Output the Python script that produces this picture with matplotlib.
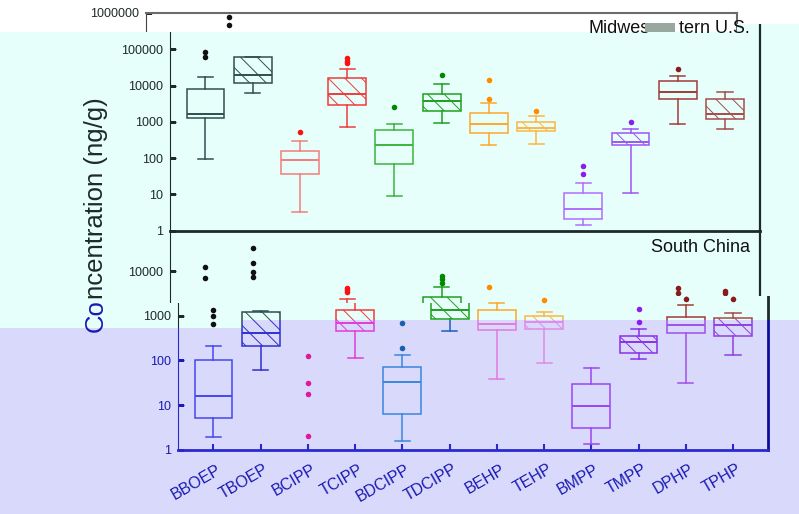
import matplotlib
matplotlib.use('Agg')
import matplotlib.pyplot as plt
from matplotlib.patches import Polygon, Rectangle
from matplotlib.transforms import Bbox, TransformedBbox, ScaledTranslation
from matplotlib.text import Text

plt.rcParams['font.family'] = ['Liberation Sans', 'DejaVu Sans']
plt.rcParams['hatch.linewidth'] = 0.7

cats = ['BBOEP', 'TBOEP', 'BCIPP', 'TCIPP', 'BDCIPP', 'TDCIPP',
        'BEHP', 'TEHP', 'BMPP', 'TMPP', 'DPHP', 'TPHP']

# Midwestern U.S. (ng/g)
us_lo = [94, 6100, 3.2, 705, 9.0, 945, 230, 240, 1.41, 10.7, 887, 646]
us_q1 = [1300, 11900, 35.8, 2850, 67.5, 1950, 491, 547, 2.06, 225, 4170, 1172]
us_med = [1620, 19400, 90, 5720, 230, 3670, 869, 675, 3.96, 272, 6500, 1610]
us_q3 = [7850, 62000, 154, 15800, 606, 5720, 1715, 1006, 10.7, 482, 13300, 4330]
us_hi = [16900, 62000, 290, 27900, 853, 10800, 3360, 1473, 21, 621, 17900, 6500]
us_fl = [[85000, 62000], [760000, 470000], [524], [56000, 47300, 40400], [2560],
         [19900], [14200, 4330], [2020], [62, 36.5], [987], [27900], []]

# South China (ng/g); BCIPP has outliers only
sc_lo = [1.9, 62, None, 114, 1.57, 459, 38.7, 88, 1.38, 110, 31.5, 133]
sc_q1 = [5.2, 205, None, 452, 6.3, 865, 476, 500, 3.06, 150, 408, 350]
sc_med = [15.9, 408, None, 693, 33.7, 1334, 649, 719, 9.6, 261, 604, 604]
sc_q3 = [101, 1200, None, 1310, 73, 2650, 1334, 960, 30.4, 350, 945, 897]
sc_hi = [205, 1260, None, 2390, 135, 4500, 1914, 1203, 66, 517, 1754, 1160]
sc_fl = [[12500, 7100, 1350, 1000, 650], [32200, 15300, 9600, 7500],
         [125, 31.5, 17.6, 2.06], [4140, 3730, 3380], [695, 188], [7540, 6580, 5530],
         [4500], [2270], [], [1377, 705], [4140, 3210, 2305], [3520, 3170, 2305]]

up_col = ['#2f4f4f', '#2f4f4f', '#f47c7c', '#f03a3a', '#3cb43c', '#1f9f1f',
          '#ffa62b', '#ffb443', '#b06cff', '#9d55f2', '#a33a3a', '#a84a4a']
up_fl = ['#111111', '#111111', '#ff1010', '#ff1010', '#008800', '#008800',
         '#ff8c00', '#ff8c00', '#8a1ef0', '#8a1ef0', '#8b1a1a', '#8b1a1a']
lo_col = ['#4646ee', '#3030d0', '#e0189a', '#e03cdc', '#3a86e0', '#1a5fc0',
          '#e07ae0', '#e08aea', '#9a45f5', '#8a30e8', '#a050ea', '#9040e0']
lo_fl = ['#1a1ab4', '#1a1ab4', '#e0189a', '#e03cdc', '#1a5fb0', '#1a5fc0',
         '#e07ae0', '#e08aea', '#8a1ef0', '#8a1ef0', '#a050ea', '#9040e0']

dark = '#1e2a2a'
navy = '#1a1ab4'
cyan_bg = '#e6fffb'
lav_bg = '#d9d9fb'

W, H = 799, 514
fig = plt.figure(figsize=(W / 100, H / 100), dpi=100)


def fpt(x, y):
    return (x / W, 1 - y / H)


def rect(x0, y0, x1, y1):
    return [x0 / W, 1 - y1 / H, (x1 - x0) / W, (y1 - y0) / H]


def poly(pts, **kw):
    return Polygon([fpt(x, y) for x, y in pts], closed=True, transform=fig.transFigure, **kw)


# screen regions of the layered screenshot
white_pts = [(0, 0), (799, 0), (799, 24), (737, 24), (737, 32), (0, 32)]
ctop_pts = [(0, 32), (737, 32), (737, 24), (799, 24), (799, 514), (0, 514)]
cbot_pts = [(0, 32), (737, 32), (737, 24), (799, 24), (799, 296), (470, 296), (470, 303), (0, 303)]
lup_pts = [(0, 303), (470, 303), (470, 296), (799, 296), (799, 320), (242, 320), (242, 328), (0, 328)]
llo_pts = [(0, 328), (242, 328), (242, 320), (799, 320), (799, 514), (0, 514)]
cyan_pts = [(0, 32), (737, 32), (737, 24), (799, 24), (799, 320), (242, 320), (242, 328), (0, 328)]

fig.add_artist(poly(cyan_pts, facecolor=cyan_bg, edgecolor='none', zorder=-10))
fig.add_artist(poly(llo_pts, facecolor=lav_bg, edgecolor='none', zorder=-10))


def make_ax(r, ytop, ticks, labels, tcol):
    ax = fig.add_axes(r)
    ax.set_facecolor('none')
    ax.set_yscale('log')
    ax.set_ylim(1, ytop)
    ax.set_xlim(-0.75, 11.74)
    ax.set_yticks(ticks)
    ax.set_yticklabels(labels)
    ax.minorticks_off()
    ax.set_xticks([])
    ax.tick_params(axis='both', direction='in', length=4, width=1, pad=5,
                   labelsize=9, labelcolor=tcol, color=tcol)
    return ax


def draw_panel(ax, lo, q1, med, q3, hi, fl, cols, fcols):
    for i in range(len(cats)):
        if med[i] is None:
            ax.plot([i] * len(fl[i]), fl[i], 'o', ms=4, mfc=fcols[i], mec='none')
            continue
        st = [dict(whislo=lo[i], q1=q1[i], med=med[i], q3=q3[i], whishi=hi[i], fliers=fl[i])]
        lp = dict(color=cols[i], lw=1.1)
        ax.bxp(st, positions=[i], widths=0.8, capwidths=0.32, patch_artist=True,
               manage_ticks=False,
               boxprops=dict(facecolor='none', edgecolor=cols[i], lw=1.1,
                             hatch='\\\\' if i % 2 == 1 else None),
               medianprops=dict(color=cols[i], lw=1.4), whiskerprops=lp, capprops=lp,
               flierprops=dict(marker='o', ms=4, mfc=fcols[i], mec='none'))


def clip_axes(ax, pts):
    cp = poly(pts)
    for a in ax.findobj():
        if a is ax or isinstance(a, Text):
            continue
        a.set_clip_on(True)
        a.set_clip_box(None)
        a.set_clip_path(cp)


top_ticks = [1, 10, 100, 1000, 10000, 100000, 1000000]
top_lab = ['1', '10', '100', '1000', '10000', '100000', '1000000']
bot_ticks = [1, 10, 100, 1000, 10000]
bot_top = 10 ** 4.9016

# white layer: top panel shifted left
ax_w = make_ax(rect(146, 12.9, 737, 230.7), 1e6, top_ticks,
               [''] * 6 + ['1000000'], dark)
draw_panel(ax_w, us_lo, us_q1, us_med, us_q3, us_hi, us_fl, up_col, up_fl)
ax_w.spines['bottom'].set_visible(False)
for s in ['top', 'right']:
    ax_w.spines[s].set_color('#6b6b6b')
    ax_w.spines[s].set_linewidth(1.5)
ax_w.spines['left'].set_color('#444444')
clip_axes(ax_w, white_pts)

# cyan layer: Midwestern U.S.
ax_ct = make_ax(rect(170, 12.9, 760, 230.7), 1e6, top_ticks, top_lab[:-1] + [''], dark)
draw_panel(ax_ct, us_lo, us_q1, us_med, us_q3, us_hi, us_fl, up_col, up_fl)
for s in ['left', 'right', 'bottom', 'top']:
    ax_ct.spines[s].set_color(dark)
ax_ct.spines['bottom'].set_linewidth(2)
ax_ct.spines['right'].set_linewidth(1.6)
clip_axes(ax_ct, ctop_pts)

# cyan layer: South China
ax_cb = make_ax(rect(170, 230.7, 760, 449.8), bot_top, bot_ticks,
                ['', '', '', '', '10000'], dark)
draw_panel(ax_cb, sc_lo, sc_q1, sc_med, sc_q3, sc_hi, sc_fl, up_col, up_fl)
ax_cb.spines['top'].set_visible(False)
ax_cb.spines['bottom'].set_visible(False)
for s in ['left', 'right']:
    ax_cb.spines[s].set_color(dark)
ax_cb.spines['right'].set_linewidth(1.6)
clip_axes(ax_cb, cbot_pts)

# lavender layer, upper strip (original colours)
ax_lu = make_ax(rect(178, 230.7, 768, 449.8), bot_top, bot_ticks,
                ['', '', '', '1000', ''], dark)
draw_panel(ax_lu, sc_lo, sc_q1, sc_med, sc_q3, sc_hi, sc_fl, up_col, up_fl)
ax_lu.spines['top'].set_visible(False)
for s in ['left', 'right', 'bottom']:
    ax_lu.spines[s].set_color(dark)
ax_lu.spines['right'].set_linewidth(2)
clip_axes(ax_lu, lup_pts)

# lavender layer, lower part (shifted colours)
ax_ll = make_ax(rect(178, 230.7, 768, 449.8), bot_top, bot_ticks,
                ['1', '10', '100', '', ''], navy)
draw_panel(ax_ll, sc_lo, sc_q1, sc_med, sc_q3, sc_hi, sc_fl, lo_col, lo_fl)
ax_ll.spines['top'].set_visible(False)
ax_ll.spines['left'].set_color('#2a2acc')
ax_ll.spines['bottom'].set_color('#2a2acc')
ax_ll.spines['bottom'].set_linewidth(2)
ax_ll.spines['right'].set_color('#0d0d99')
ax_ll.spines['right'].set_linewidth(2)
ax_ll.set_xticks(range(len(cats)))
ax_ll.set_xticklabels(cats, rotation=30, ha='right', va='top', rotation_mode='anchor',
                      fontsize=11.5, color=navy)
ax_ll.tick_params(axis='x', direction='in', length=4, width=1.5, color='#2a2acc')
off = ScaledTranslation(3 / 100, -5 / 100, fig.dpi_scale_trans)
for lab in ax_ll.get_xticklabels():
    lab.set_transform(lab.get_transform() + off)
clip_axes(ax_ll, llo_pts)

# panel titles: the two layers show different halves of the same title
fig.text(588 / W, 1 - 33 / H, 'Midwes', ha='left', va='baseline',
         fontsize=13, color='#111111')
fig.text(750 / W, 1 - 33 / H, 'tern U.S.', ha='right', va='baseline',
         fontsize=13, color='#111111')
fig.add_artist(Rectangle(fpt(645, 32), 30 / W, 9 / H, transform=fig.transFigure,
                         facecolor='#98a89f', edgecolor='none', zorder=5))
fig.text(750 / W, 1 - 252 / H, 'South China', ha='right', va='baseline',
         fontsize=13, color='#111111')

# y label, "Co" from the blue layer, the rest from the cyan layer
fig.text(103 / W, 1 - 332 / H, 'Co', rotation=90, ha='left', va='baseline',
         rotation_mode='anchor', fontsize=18.5, color=navy)
fig.text(103 / W, 1 - 299 / H, 'ncentration (ng/g)', rotation=90, ha='left',
         va='baseline', rotation_mode='anchor', fontsize=18.5, color=dark)

fig.savefig('out.png', dpi=100)
